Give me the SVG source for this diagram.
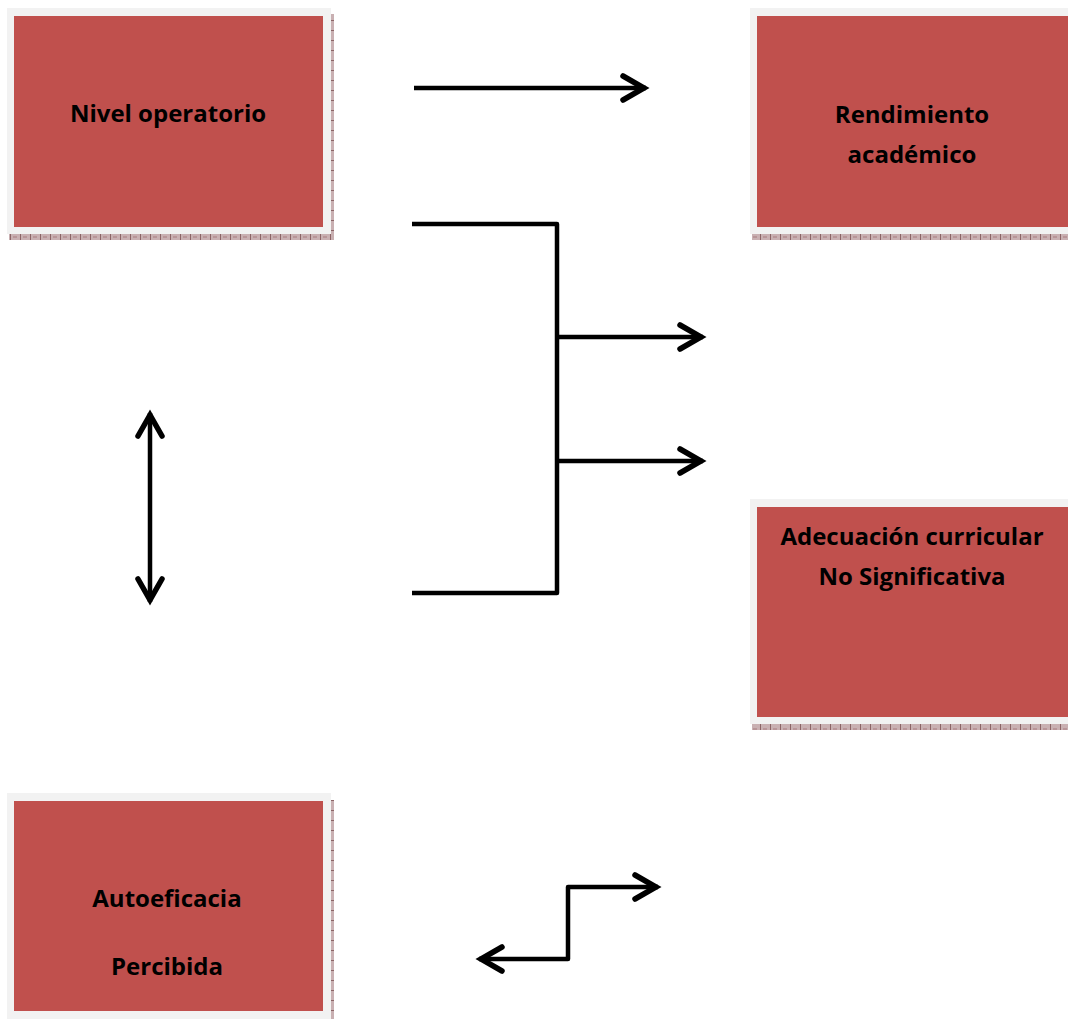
<svg xmlns="http://www.w3.org/2000/svg" width="1068" height="1019" viewBox="0 0 1068 1019">
<defs>
<pattern id="hatchH" width="10" height="6" patternUnits="userSpaceOnUse">
<rect width="10" height="6" fill="#c9b0b2"/>
<rect x="0" y="0" width="1" height="6" fill="#8c6466"/>
<rect x="3" y="2" width="4" height="2" fill="#b89598"/>
</pattern>
<pattern id="hatchV" width="4" height="10" patternUnits="userSpaceOnUse">
<rect width="4" height="10" fill="#c9b0b2"/>
<rect x="0" y="0" width="4" height="1" fill="#8c6466"/>
</pattern>
<marker id="head" viewBox="0 0 30 30" refX="26" refY="15" markerWidth="30" markerHeight="30" markerUnits="userSpaceOnUse" orient="auto-start-reverse">
<path d="M3,3 L24,15 L3,27" fill="none" stroke="#000" stroke-width="5.5" stroke-linecap="round" stroke-linejoin="miter"/>
</marker>
</defs>
<style>
.frame{fill:#f2f2f2}
.box{fill:#c0504d}
.lbl{font-family:"Open Sans","Liberation Sans",sans-serif;font-weight:bold;font-size:24px;fill:#000;text-anchor:middle}
.conn{fill:none;stroke:#000;stroke-width:4.5;stroke-linejoin:round}
</style>
<rect width="1068" height="1019" fill="#fff"/>

<g id="nivel-operatorio">
<rect x="9" y="234" width="322" height="6" fill="url(#hatchH)"/>
<rect x="331" y="14" width="3" height="226" fill="url(#hatchV)"/>
<rect class="frame" x="7" y="8" width="324" height="226"/>
<rect class="box" x="14" y="16" width="309" height="211"/>
<text class="lbl" x="168" y="122">Nivel operatorio</text>
</g>

<g id="rendimiento-academico">
<rect x="752" y="234" width="316" height="6" fill="url(#hatchH)"/>
<rect class="frame" x="750" y="8" width="318" height="226"/>
<rect class="box" x="757" y="16" width="311" height="211"/>
<text class="lbl" x="912" y="123">Rendimiento</text>
<text class="lbl" x="912" y="163">académico</text>
</g>

<g id="adecuacion-curricular">
<rect x="752" y="724" width="316" height="6" fill="url(#hatchH)"/>
<rect class="frame" x="750" y="499" width="318" height="225"/>
<rect class="box" x="757" y="507" width="311" height="210"/>
<text class="lbl" x="912" y="545">Adecuación curricular</text>
<text class="lbl" x="912" y="585">No Significativa</text>
</g>

<g id="autoeficacia-percibida">
<rect x="331" y="800" width="3" height="219" fill="url(#hatchV)"/>
<rect class="frame" x="7" y="793" width="324" height="226"/>
<rect class="box" x="14" y="801" width="309" height="210"/>
<text class="lbl" x="167" y="907">Autoeficacia</text>
<text class="lbl" x="167" y="975">Percibida</text>
</g>

<g id="connectors">
<path class="conn" d="M414,88 H646" marker-end="url(#head)"/>
<path class="conn" d="M412,224 H557 V593 H412"/>
<path class="conn" d="M557,337 H703" marker-end="url(#head)"/>
<path class="conn" d="M557,461 H703" marker-end="url(#head)"/>
<path class="conn" d="M150,413 V602" marker-start="url(#head)" marker-end="url(#head)"/>
<path class="conn" d="M479,959 H568 V887 H658" marker-start="url(#head)" marker-end="url(#head)"/>
</g>
</svg>
